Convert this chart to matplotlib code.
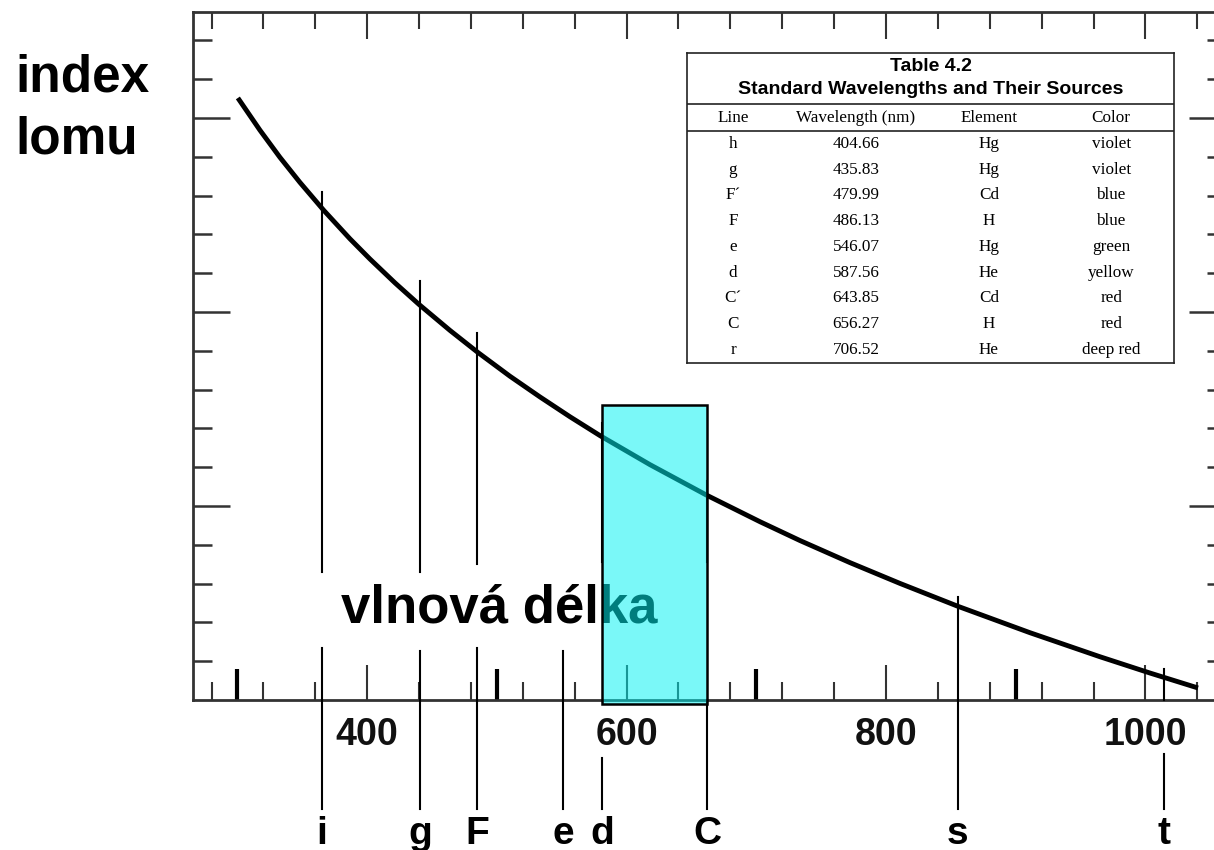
import matplotlib
matplotlib.use("Agg")
import matplotlib.pyplot as plt
from matplotlib.patches import Rectangle

# ---------------- data ----------------
curve_wl = [300.3, 317.3, 332.7, 348.1, 366.6, 386.7, 402.1, 421.4, 439.9,
            463.8, 485.4, 510.0, 533.2, 556.3, 579.4, 618.0, 661.9, 702.8,
            733.6, 772.2, 810.7, 855.4, 910.9, 964.9, 1003.5, 1040.5]
curve_n = [1.52103, 1.51937, 1.51797, 1.51668, 1.51523, 1.51377, 1.51273,
           1.51150, 1.51039, 1.50905, 1.50791, 1.50669, 1.50562, 1.50460,
           1.50363, 1.50213, 1.50055, 1.49919, 1.49822, 1.49708, 1.49601,
           1.49483, 1.49347, 1.49223, 1.49139, 1.49062]

line_names = ['i', 'g', 'F', 'e', 'd', 'C', 's', 't']
line_wl = [365.1, 440.6, 484.6, 550.9, 581.0, 661.9, 855.4, 1014.3]
upper_top = [1.5162, 1.5116, 1.5089, None, 1.5043, 1.5013, 1.4953, 1.4916]
upper_bot = [1.4966, 1.4966, 1.4970, None, 1.4971, 1.4971, 1.4900, 1.4900]
lower_top = [1.4927, 1.4925, 1.4927, 1.4925, 1.4870, 1.4900, 1.4900, 1.4872]
lower_bot = [1.4844] * 8
label_n = 1.4826

x_major = [400, 600, 800, 1000]
x_major_labels = ['400', '600', '800', '1000']
x_minor = [280, 320, 360, 440, 480, 520, 560, 640, 680, 720, 760,
           840, 880, 920, 960, 1040]
x_mid = [300, 500, 700, 900]
y_major = [1.50, 1.51, 1.52]
y_minor = [1.492, 1.494, 1.496, 1.498, 1.502, 1.504, 1.506, 1.508,
           1.512, 1.514, 1.516, 1.518, 1.522, 1.524]

band_top = 1.5052
band_bottom = 1.4898

table_title = ['Table 4.2', 'Standard Wavelengths and Their Sources']
table_header = ['Line', 'Wavelength (nm)', 'Element', 'Color']
tab_line = ['h', 'g', 'F´', 'F', 'e', 'd', 'C´', 'C', 'r']
tab_wl = ['404.66', '435.83', '479.99', '486.13', '546.07', '587.56',
          '643.85', '656.27', '706.52']
tab_el = ['Hg', 'Hg', 'Cd', 'H', 'Hg', 'He', 'Cd', 'H', 'He']
tab_col = ['violet', 'violet', 'blue', 'blue', 'green', 'yellow', 'red',
           'red', 'deep red']

# ---------------- figure ----------------
W, H = 1214, 850
fig = plt.figure(figsize=(W / 100, H / 100), dpi=100)
fig.patch.set_facecolor('white')

def px_box(x0, y0, x1, y1):
    return [x0 / W, 1 - y1 / H, (x1 - x0) / W, (y1 - y0) / H]

ax = fig.add_axes(px_box(193, 12, 1226, 700))
ax.set_xlim(265.7, 1062.1)
ax.set_ylim(1.49, 1.52546)

sans = 'Liberation Sans'
serif = 'Liberation Serif'
spine_col = '#333333'
for s in ax.spines.values():
    s.set_color(spine_col)
    s.set_linewidth(2.0)

# curve
ax.plot(curve_wl, curve_n, color='black', lw=3.5, solid_capstyle='butt',
        solid_joinstyle='round', zorder=4)

# spectral lines
for k, name in enumerate(line_names):
    if upper_top[k] is not None:
        ax.plot([line_wl[k], line_wl[k]], [upper_top[k], upper_bot[k]],
                color='black', lw=1.5, clip_on=False, zorder=3)
    ax.plot([line_wl[k], line_wl[k]], [lower_top[k], lower_bot[k]],
            color='black', lw=1.5, clip_on=False, zorder=3)
    ax.text(line_wl[k], label_n, name, ha='center', va='baseline',
            fontsize=28, fontweight='bold', family=sans, clip_on=False)

# "vlnová délka"
ax.text(501.5, 1.49397, 'vlnová délka', ha='center', va='baseline',
        fontsize=38, fontweight='bold', family=sans, zorder=3)

# cyan band from d to C
d_wl = line_wl[line_names.index('d')]
c_wl = line_wl[line_names.index('C')]
ax.add_patch(Rectangle((d_wl, band_bottom), c_wl - d_wl, band_top - band_bottom,
                       facecolor=(0.0, 0.95, 0.95), alpha=0.52, edgecolor='none',
                       zorder=6, clip_on=False))
ax.add_patch(Rectangle((d_wl, band_bottom), c_wl - d_wl, band_top - band_bottom,
                       facecolor='none', edgecolor='black', lw=1.8,
                       zorder=7, clip_on=False))

# x ticks bottom
ax.set_xticks(x_major)
ax.set_xticklabels(x_major_labels)
ax.set_xticks(x_minor, minor=True)
ax.tick_params(axis='x', which='both', direction='in', top=False, bottom=True,
               colors=spine_col, width=1.5)
ax.tick_params(axis='x', which='major', length=25, pad=12, labelsize=27,
               labelcolor='#111111')
ax.tick_params(axis='x', which='minor', length=13)
for lab in ax.get_xticklabels():
    lab.set_fontfamily(sans)
    lab.set_fontweight('bold')

# bold mid ticks
sec_mid = ax.secondary_xaxis('bottom')
sec_mid.set_xticks(x_mid)
sec_mid.set_xticklabels([])
sec_mid.tick_params(axis='x', which='major', direction='in', length=22, width=3,
                    color='black')
sec_mid.spines['bottom'].set_visible(False)

# top ticks
sec_top = ax.secondary_xaxis('top')
sec_top.set_xticks(x_major)
sec_top.set_xticklabels([])
sec_top.set_xticks(x_minor, minor=True)
sec_top.tick_params(axis='x', which='both', direction='in', width=1.5,
                    colors=spine_col)
sec_top.tick_params(axis='x', which='major', length=19.5)
sec_top.tick_params(axis='x', which='minor', length=12)
sec_top.spines['top'].set_visible(False)

# y ticks
ax.set_yticks(y_major)
ax.set_yticks(y_minor, minor=True)
ax.tick_params(axis='y', which='both', direction='in', left=True, right=True,
               labelleft=False, colors=spine_col, width=1.8)
ax.tick_params(axis='y', which='major', length=26.5)
ax.tick_params(axis='y', which='minor', length=13.5)

# y label
fig.text(15 / W, 1 - 92 / H, 'index', ha='left', va='baseline', fontsize=37,
         fontweight='bold', family=sans)
fig.text(15 / W, 1 - 153 / H, 'lomu', ha='left', va='baseline', fontsize=37,
         fontweight='bold', family=sans)

# ---------------- table ----------------
tx = fig.add_axes(px_box(687, 53, 1174, 363))
tx.set_xlim(0, 1)
tx.set_ylim(1, 0)
tx.set_xticks([])
tx.set_yticks([])
tx.patch.set_facecolor('white')
tx.set_zorder(10)
for s in tx.spines.values():
    s.set_color('#222222')
    s.set_linewidth(1.2)
tx.axhline(0.1645, color='#222222', lw=1.2)
tx.axhline(0.2516, color='#222222', lw=1.2)
tx.text(0.5, 0.042, table_title[0], ha='center', va='center', fontsize=14,
        fontweight='bold', family=sans)
tx.text(0.5, 0.117, table_title[1], ha='center', va='center', fontsize=14,
        fontweight='bold', family=sans)
col_x = [0.0945, 0.347, 0.620, 0.871]
for cx, h in zip(col_x, table_header):
    tx.text(cx, 0.21, h, ha='center', va='center', fontsize=12.3, family=serif)
rows = list(zip(tab_line, tab_wl, tab_el, tab_col))
for r, row in enumerate(rows):
    yy = (144 - 53 + r * 25.75) / 310
    for cx, val in zip(col_x, row):
        tx.text(cx, yy, val, ha='center', va='center', fontsize=12.3,
                family=serif)

fig.savefig('out.png', dpi=100)
